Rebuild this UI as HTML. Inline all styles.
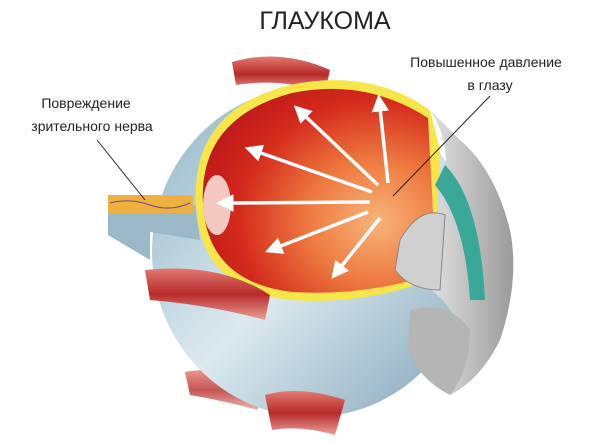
<!DOCTYPE html>
<html><head><meta charset="utf-8"><style>
html,body{margin:0;padding:0;background:#fff;}
svg{display:block;}
text{font-family:"Liberation Sans","DejaVu Sans",sans-serif;fill:#222;}
</style></head><body>
<svg width="600" height="443" viewBox="0 0 600 443" xmlns="http://www.w3.org/2000/svg">
<defs>
<radialGradient id="red" cx="0.75" cy="0.65" r="0.85">
<stop offset="0" stop-color="#f8b47a"/><stop offset="0.35" stop-color="#ee7a40"/><stop offset="0.7" stop-color="#d42a1c"/><stop offset="1" stop-color="#b8141a"/></radialGradient>
<linearGradient id="blue" x1="0" y1="0" x2="1" y2="1">
<stop offset="0" stop-color="#8fb3c6"/><stop offset="0.5" stop-color="#dce9ef"/><stop offset="1" stop-color="#7fa3b8"/></linearGradient>
<linearGradient id="musc" x1="0" y1="0" x2="0" y2="1">
<stop offset="0" stop-color="#e07a70"/><stop offset="0.5" stop-color="#b82a2a"/><stop offset="1" stop-color="#e8a098"/></linearGradient>
<linearGradient id="gray" x1="0" y1="0" x2="1" y2="0">
<stop offset="0" stop-color="#f2f2f2"/><stop offset="1" stop-color="#9a9a9a"/></linearGradient>
<marker id="ah" markerWidth="5" markerHeight="5" refX="1" refY="2.5" orient="auto" markerUnits="strokeWidth"><path d="M0,0 L5,2.5 L0,5z" fill="#fff"/></marker>
</defs>
<text x="325" y="29" font-size="25" text-anchor="middle" fill="#333">ГЛАУКОМА</text>
<text x="486" y="67" font-size="14" text-anchor="middle">Повышенное давление</text>
<text x="490" y="90" font-size="14" text-anchor="middle">в глазу</text>
<text x="86" y="108" font-size="14" text-anchor="middle">Повреждение</text>
<text x="92" y="131" font-size="14" text-anchor="middle">зрительного нерва</text>

<!-- muscles -->
<path d="M232,62 Q280,48 330,70 L325,92 Q280,78 236,85z" fill="url(#musc)"/>
<path d="M185,372 Q220,365 262,385 L258,410 Q220,400 190,395z" fill="url(#musc)" opacity="0.8"/>
<!-- outer sphere -->
<ellipse cx="312" cy="252" rx="160" ry="165" fill="url(#blue)"/>
<path d="M108,210 L195,205 L200,240 L150,232 L150,260 L108,235z" fill="#9ab8c8"/>
<rect x="108" y="195" width="85" height="18" fill="#f0b040"/>
<path d="M110,203 Q130,198 150,205 T190,203" stroke="#6a4a9a" fill="none"/>
<!-- inner red -->
<path d="M196,205 Q190,110 290,85 Q370,68 430,110 L440,150 L435,250 L425,282 Q360,305 290,300 Q200,290 196,205z" fill="#f7e64a"/>
<path d="M203,205 Q198,118 292,93 Q366,78 428,118 L435,250 L420,278 Q360,296 292,292 Q208,282 203,205z" fill="url(#red)"/>
<ellipse cx="217" cy="205" rx="14" ry="30" fill="#f2c8c0"/>
<!-- right structures -->
<path d="M430,110 Q450,140 445,180 L430,250 L410,270 L420,282 Q450,300 460,330 L450,395 Q480,380 500,340 Q520,280 510,230 Q495,170 460,140z" fill="url(#gray)"/>
<path d="M445,165 Q480,200 485,300 L470,300 Q465,220 435,185z" fill="#3aa898"/>
<path d="M400,240 Q420,205 445,215 L440,290 Q410,290 395,270z" fill="#d0d0d0" stroke="#888"/>
<path d="M410,310 Q450,300 470,330 Q470,370 450,395 Q420,380 408,350z" fill="#b5b5b5"/>
<path d="M145,270 Q220,262 270,295 L265,320 Q210,305 150,300z" fill="url(#musc)"/>
<path d="M265,395 Q300,385 345,400 L335,435 Q300,425 272,430z" fill="url(#musc)"/>
<!-- arrows -->
<g stroke="#fff" stroke-width="3.5" marker-end="url(#ah)">
<line x1="378" y1="185" x2="304" y2="115"/>
<line x1="372" y1="192" x2="258" y2="152"/>
<line x1="370" y1="202" x2="230" y2="203"/>
<line x1="368" y1="212" x2="278" y2="247"/>
<line x1="380" y1="218" x2="340" y2="268"/>
<line x1="388" y1="183" x2="380" y2="108"/>
</g>
<line x1="490" y1="96" x2="393" y2="196" stroke="#222" stroke-width="1"/>
<line x1="97" y1="140" x2="145" y2="200" stroke="#222" stroke-width="1"/>
</svg>
</body></html>
